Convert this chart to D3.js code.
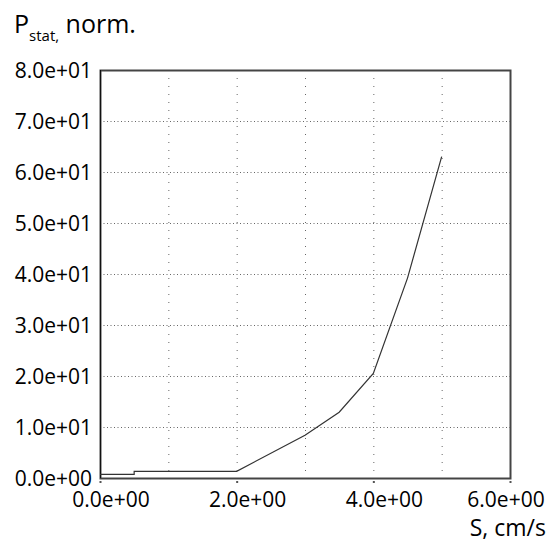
<!DOCTYPE html>
<html>
<head>
<meta charset="utf-8">
<script src="https://cdn.jsdelivr.net/npm/d3@7"></script>
<style>
  body { margin: 0; background: #fff; }
  text { font-family: "Open Sans", sans-serif; fill: #000; }
</style>
</head>
<body>
<div id="chart-area"></div>
<script>
var margin = {"left": 100, "right": 50, "top": 70, "bottom": 67}

const WIDTH = 560
const HEIGHT = 545
const GRAPH_WIDTH = WIDTH - margin.left - margin.right
const GRAPH_HEIGHT = HEIGHT - margin.top - margin.bottom

// line data
var sValues = [0, 0.5, 0.5, 2.0, 3.0, 3.5, 4.0, 4.5, 5.0]
var pValues = [0.7, 0.7, 1.3, 1.3, 8.4, 12.9, 20.5, 39.2, 63.0]

var xTicks = [0, 2, 4, 6]
var xGrid = [1, 2, 3, 4, 5]
var yTicks = [0, 10, 20, 30, 40, 50, 60, 70, 80]
var yGrid = [10, 20, 30, 40, 50, 60, 70]

var svg = d3.select('#chart-area').append("svg")
    .attr("width", WIDTH)
    .attr("height", HEIGHT)

var g = svg.append("g")
    .attr("transform", "translate(" + margin.left + "," + margin.top + ")")

var xScale = d3.scaleLinear()
    .domain([0, 6])
    .range([0, GRAPH_WIDTH])

var yScale = d3.scaleLinear()
    .domain([0, 80])
    .range([GRAPH_HEIGHT, 0])

var fmt = function(d){
    return d3.format(".1e")(d).replace(/e([+-])(\d)$/, "e$10$2")
}

// dotted grid
g.selectAll(".hgrid").data(yGrid).enter().append("line")
    .attr("class", "hgrid")
    .attr("x1", 0).attr("x2", GRAPH_WIDTH)
    .attr("y1", function(d){ return yScale(d) + 0.5 })
    .attr("y2", function(d){ return yScale(d) + 0.5 })
    .attr("stroke", "#666")
    .attr("stroke-dasharray", "1,2.5")

g.selectAll(".vgrid").data(xGrid).enter().append("line")
    .attr("class", "vgrid")
    .attr("y1", 0).attr("y2", GRAPH_HEIGHT)
    .attr("x1", function(d){ return xScale(d) + 0.5 })
    .attr("x2", function(d){ return xScale(d) + 0.5 })
    .attr("stroke", "#666")
    .attr("stroke-dasharray", "1,7")

// frame
g.append("rect")
    .attr("x", 0.5).attr("y", 0.5)
    .attr("width", GRAPH_WIDTH).attr("height", GRAPH_HEIGHT)
    .attr("fill", "none")
    .attr("stroke", "#444")
    .attr("stroke-width", 2)
g.append("line")
    .attr("x1", 0.5).attr("x2", 0.5)
    .attr("y1", 0).attr("y2", GRAPH_HEIGHT)
    .attr("stroke", "#111")

// tick dots under the x axis
g.selectAll(".tdot").data(xTicks).enter().append("rect")
    .attr("class", "tdot")
    .attr("x", function(d){ return xScale(d) - 0.5 })
    .attr("y", GRAPH_HEIGHT + 3)
    .attr("width", 2).attr("height", 2)
    .attr("fill", "#555")

// the curve
var line = d3.line()
    .x(function(d, i){ return xScale(sValues[i]) })
    .y(function(d, i){ return yScale(pValues[i]) })

g.append("path")
    .datum(pValues)
    .attr("d", line)
    .attr("fill", "none")
    .attr("stroke", "#333")
    .attr("stroke-width", 1.2)

// tick labels
g.selectAll(".ylab").data(yTicks).enter().append("text")
    .attr("class", "ylab")
    .attr("x", -8)
    .attr("y", function(d){ return yScale(d) + 8 })
    .attr("text-anchor", "end")
    .attr("font-size", "21px")
    .text(fmt)

g.selectAll(".xlab").data(xTicks).enter().append("text")
    .attr("class", "xlab")
    .attr("x", function(d){ return Math.min(xScale(d) + 11, WIDTH - margin.left - 54) })
    .attr("y", GRAPH_HEIGHT + 29)
    .attr("text-anchor", "middle")
    .attr("font-size", "21px")
    .text(fmt)

// axis titles
var yTitle = svg.append("text")
    .attr("x", 14)
    .attr("y", 33)
    .attr("font-size", "25px")
yTitle.append("tspan").text("P")
yTitle.append("tspan").attr("font-size", "15px").attr("dy", 8).text("stat,")
yTitle.append("tspan").attr("dy", -8).text(" norm.")

svg.append("text")
    .attr("x", 546)
    .attr("y", 536)
    .attr("text-anchor", "end")
    .attr("font-size", "23px")
    .text("S, cm/s")
</script>
</body>
</html>
